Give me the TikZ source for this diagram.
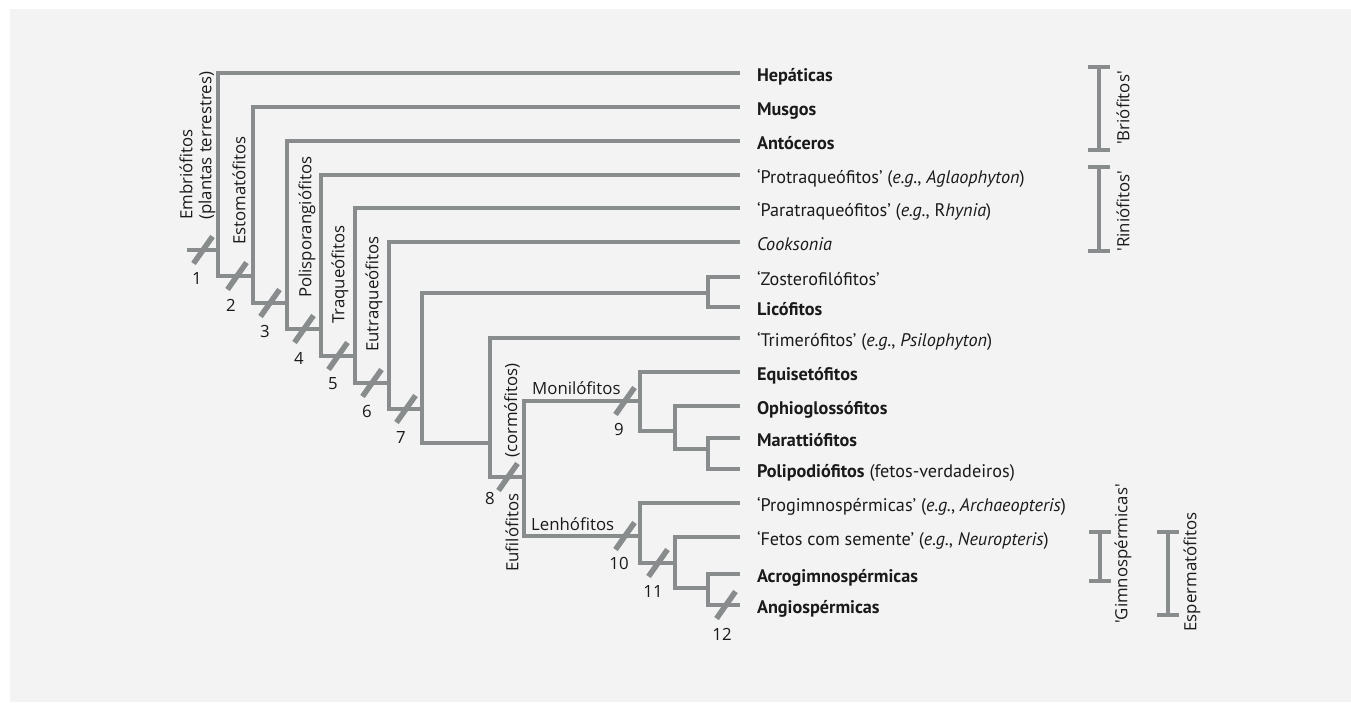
\documentclass[tikz,border=0pt]{standalone}
\usepackage{fontspec}
\setmainfont{PT Sans}
\newfontfamily\cladefont{Open Sans}
\definecolor{linegray}{HTML}{898C8C}
\definecolor{panel}{HTML}{F3F3F3}
\definecolor{ink}{HTML}{1A1A1A}
\begin{document}
\begin{tikzpicture}[x=1pt,y=-1pt,
  branch/.style={draw=linegray,line width=4pt,line join=miter},
  synmark/.style={draw=linegray,line width=5.5pt},
  bracket/.style={draw=linegray,line width=4pt},
  leaf/.style={anchor=west,inner xsep=0pt,inner ysep=0pt,outer sep=0pt,
    text height=18pt,text depth=2pt,font=\fontsize{18.2}{20}\selectfont,text=ink},
  cfont/.style={font=\cladefont\fontsize{16.8}{19}\selectfont,text=ink,inner sep=0pt},
  num/.style={cfont},
  clade/.style={cfont,rotate=90,anchor=west},
  hclade/.style={cfont,anchor=base west},
  grp/.style={cfont,rotate=90},
]
\useasboundingbox (0,0) rectangle (1351,702);
\fill[white] (0,0) rectangle (1351,702);
\fill[panel] (10,9) rectangle (1351,702);

% ---- leaf labels (west anchor = end of the branch) ----
\begin{scope}[every node/.append style={leaf}]
\node (hep) at (740,73)  {\hspace{17pt}\textbf{Hepáticas}};
\node (mus) at (740,107) {\hspace{17pt}\textbf{Musgos}};
\node (ant) at (740,141) {\hspace{17pt}\textbf{Antóceros}};
\node (prt) at (740,175) {\hspace{17pt}‘Protraqueófitos’ (\textit{e.g.}, \textit{Aglaophyton})};
\node (par) at (740,208) {\hspace{17pt}‘Paratraqueófitos’ (\textit{e.g.}, R\textit{hynia})};
\node (coo) at (740,242) {\hspace{17pt}\textit{Cooksonia}};
\node (zos) at (740,277) {\hspace{17pt}‘Zosterofilófitos’};
\node (lic) at (740,307) {\hspace{17pt}\textbf{Licófitos}};
\node (tri) at (740,338) {\hspace{17pt}‘Trimerófitos’ (\textit{e.g.}, \textit{Psilophyton})};
\node (equ) at (740,372) {\hspace{17pt}\textbf{Equisetófitos}};
\node (oph) at (740,406) {\hspace{17pt}\textbf{Ophioglossófitos}};
\node (mar) at (740,438) {\hspace{17pt}\textbf{Marattiófitos}};
\node (pol) at (740,469) {\hspace{17pt}\textbf{Polipodiófitos} (fetos-verdadeiros)};
\node (pro) at (740,503) {\hspace{17pt}‘Progimnospérmicas’ (\textit{e.g.}, \textit{Archaeopteris})};
\node (fet) at (740,537) {\hspace{17pt}‘Fetos com semente’ (\textit{e.g.}, \textit{Neuropteris})};
\node (acr) at (740,574) {\hspace{17pt}\textbf{Acrogimnospérmicas}};
\node (ang) at (740,605) {\hspace{17pt}\textbf{Angiospérmicas}};
\end{scope}

% ---- junctions ----
\coordinate (root) at (187,250);
\coordinate (b1) at (218,276);
\coordinate (b2) at (253,303);
\coordinate (b3) at (287,329);
\coordinate (b4) at (321,356);
\coordinate (b5) at (355,383);
\coordinate (b6) at (389,409);
\coordinate (b7) at (422,443);
\coordinate (zc) at (708,293);
\coordinate (b8) at (490,477);
\coordinate (b9) at (524,536);
\coordinate (m1) at (640,401);
\coordinate (mb1) at (640,431);
\coordinate (mb2) at (675,449);
\coordinate (mc) at (708,449);
\coordinate (gb1) at (640,563);
\coordinate (gb2) at (675,588);
\coordinate (gc) at (708,588);

% ---- branches ----
\draw[branch] (root) -- (root -| b1);
\draw[branch] (hep.west) -| (b1) -- (b1 -| b2);
\draw[branch] (mus.west) -| (b2) -- (b2 -| b3);
\draw[branch] (ant.west) -| (b3) -- (b3 -| b4);
\draw[branch] (prt.west) -| (b4) -- (b4 -| b5);
\draw[branch] (par.west) -| (b5) -- (b5 -| b6);
\draw[branch] (coo.west) -| (b6) -- (b6 -| b7);
\draw[branch] (zc) -| (b7) -- (b7 -| b8);
\draw[branch] (zos.west) -| (zc) |- (lic.west);
\draw[branch] (tri.west) -| (b8) -- (b8 -| b9);
\draw[branch] (m1) -| (b9) -- (b9 -| m1);
\draw[branch] (equ.west) -| (mb1) -- (mb1 -| mb2);
\draw[branch] (oph.west) -| (mb2) -- (mc);
\draw[branch] (mar.west) -| (mc) |- (pol.west);
\draw[branch] (pro.west) -| (gb1) -- (gb1 -| gb2);
\draw[branch] (fet.west) -| (gb2) -- (gc);
\draw[branch] (acr.west) -| (gc) |- (ang.west);

% ---- synapomorphy marks ----
\foreach \n/\p in {1/{203,250},2/{237,276},3/{270,303},4/{304,329},5/{338,356},
  6/{372,383},7/{406,409},8/{508,477},9/{625,401},10/{625,536},11/{658,563},12/{726,605}}
  \coordinate (t\n) at (\p);
\foreach \n in {1,...,12}
  \draw[synmark] (t\n) +(-9.5,13.5) -- +(9.5,-13.5);

% ---- mark numbers ----
\node[num] (n1) at (197,278) {1};
\node[num] (n2) at (231,305) {2};
\node[num] (n3) at (265,331) {3};
\node[num] (n4) at (299,358) {4};
\node[num] (n5) at (333,384) {5};
\node[num] (n6) at (367,411) {6};
\node[num] (n7) at (401,437) {7};
\node[num] (n8) at (490,498) {8};
\node[num] (n9) at (619,429) {9};
\node[num] (n10) at (619,563) {10};
\node[num] (n11) at (653,591) {11};
\node[num] (n12) at (722,634) {12};

% ---- clade names ----
\node[clade] (embr) at (186,220) {Embriófitos};
\node[clade] (plan) at (207,220) {(plantas terrestres)};
\node[clade] (esto) at (239,245) {Estomatófitos};
\node[clade] (poli) at (307,298) {Polisporangiófitos};
\node[clade] (traq) at (340,324) {Traqueófitos};
\node[clade] (eutr) at (374,352) {Eutraqueófitos};
\node[clade] (eufi) at (512,572) {Eufilófitos};
\node[clade] (corm) at (512,458) {(cormófitos)};
\node[hclade] (moni) at (532,394) {Monilófitos};
\node[hclade] (lenh) at (531,530) {Lenhófitos};

% ---- group brackets ----
\coordinate (bri-t) at (1099,67);  \coordinate (bri-b) at (1099,150);
\coordinate (rin-t) at (1099,167); \coordinate (rin-b) at (1099,251);
\coordinate (gim-t) at (1100,532); \coordinate (gim-b) at (1100,581);
\coordinate (esp-t) at (1168,532); \coordinate (esp-b) at (1168,615);
\foreach \g in {bri,rin,gim,esp}{
  \draw[bracket] (\g-t) -- (\g-b);
  \draw[bracket] (\g-t) +(-11,0) -- +(11,0);
  \draw[bracket] (\g-b) +(-11,0) -- +(11,0);
}
\node[grp] (bril) at (1123,108) {\textquotesingle Briófitos\textquotesingle};
\node[grp] (rinl) at (1123,211) {\textquotesingle Riniófitos\textquotesingle};
\node[grp] (giml) at (1123,554) {\textquotesingle Gimnospérmicas\textquotesingle};
\node[grp] (espl) at (1192,572) {Espermatófitos};
\end{tikzpicture}
\end{document}
